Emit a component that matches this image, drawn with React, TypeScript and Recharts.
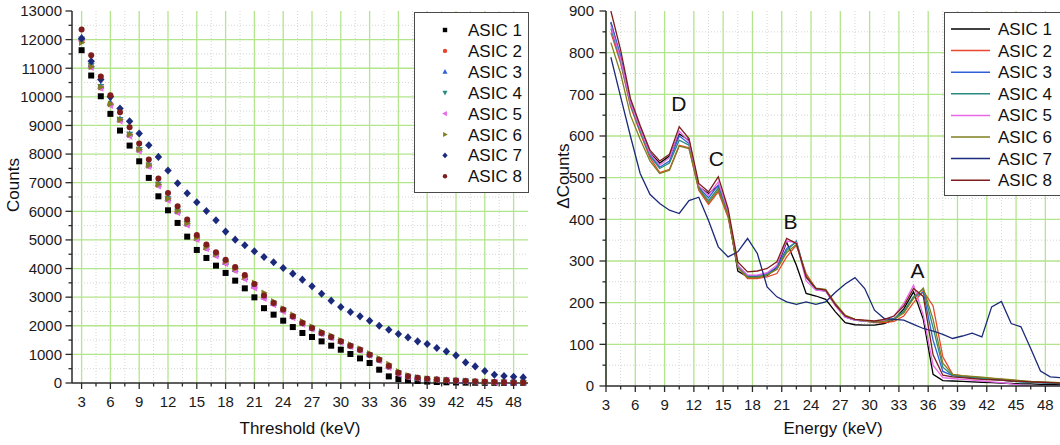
import {
  ScatterChart,
  Scatter,
  LineChart,
  Line,
  XAxis,
  YAxis,
  CartesianGrid,
  ReferenceDot,
  Label,
} from "recharts";

const FONT = "'Liberation Sans', Arial, Helvetica, sans-serif";
const AXIS = "#2a2a2a";
const GRID_MAJOR = "#b3e58c";
const GRID_MINOR = "#d6d6d6";

// ---- left panel: counts vs threshold ----
const thresholds = [3, 4, 5, 6, 7, 8, 9, 10, 11, 12, 13, 14, 15, 16, 17, 18, 19, 20, 21, 22, 23, 24, 25, 26, 27, 28, 29, 30, 31, 32, 33, 34, 35, 36, 37, 38, 39, 40, 41, 42, 43, 44, 45, 46, 47, 48, 49];
const countsAsic1 = [11630, 10745, 10020, 9405, 8822, 8297, 7748, 7168, 6524, 6035, 5594, 5115, 4650, 4370, 4101, 3846, 3577, 3308, 2993, 2615, 2388, 2178, 1955, 1748, 1608, 1455, 1304, 1164, 1014, 860, 699, 465, 231, 140, 100, 70, 50, 35, 25, 18, 12, 9, 6, 5, 4, 3, 2];
const countsAsic2 = [11980, 11060, 10330, 9740, 9190, 8670, 8150, 7600, 6930, 6430, 5990, 5560, 5050, 4720, 4480, 4210, 3955, 3675, 3375, 3000, 2775, 2545, 2315, 2085, 1910, 1735, 1595, 1440, 1290, 1150, 980, 800, 560, 330, 220, 170, 138, 118, 98, 82, 68, 54, 40, 30, 24, 19, 14];
const countsAsic3 = [12080, 11120, 10380, 9790, 9230, 8700, 8170, 7620, 6950, 6450, 6010, 5580, 5070, 4740, 4495, 4225, 3970, 3690, 3390, 3015, 2790, 2560, 2330, 2095, 1920, 1745, 1605, 1450, 1300, 1160, 990, 815, 590, 360, 235, 178, 142, 121, 101, 86, 71, 56, 41, 31, 25, 20, 15];
const countsAsic4 = [12020, 11090, 10360, 9950, 9210, 8690, 8160, 7610, 6940, 6440, 6000, 5570, 5060, 4730, 4485, 4215, 3960, 3680, 3380, 3005, 2785, 2550, 2320, 2090, 1915, 1740, 1600, 1445, 1295, 1155, 985, 810, 585, 355, 232, 176, 140, 120, 100, 85, 70, 55, 40, 30, 25, 20, 15];
const countsAsic5 = [11950, 11020, 10300, 9700, 9150, 8620, 8100, 7560, 6880, 6380, 5950, 5510, 5010, 4690, 4440, 4170, 3920, 3630, 3320, 2950, 2730, 2500, 2280, 2050, 1880, 1710, 1570, 1415, 1270, 1130, 960, 780, 540, 310, 210, 165, 135, 115, 95, 80, 65, 50, 38, 28, 22, 18, 13];
const countsAsic6 = [11900, 11050, 10340, 9750, 9200, 8680, 8160, 7610, 6940, 6440, 6010, 5580, 5080, 4760, 4510, 4250, 4000, 3720, 3500, 3150, 2850, 2600, 2380, 2150, 1970, 1790, 1650, 1490, 1340, 1200, 1030, 860, 660, 400, 260, 190, 150, 125, 105, 88, 72, 57, 42, 32, 26, 21, 16];
const countsAsic7 = [12040, 11245, 10605, 10000, 9590, 9147, 8717, 8308, 7902, 7423, 6979, 6629, 6315, 6014, 5689, 5290, 5010, 4811, 4601, 4406, 4217, 4021, 3822, 3612, 3378, 3122, 2878, 2657, 2483, 2329, 2178, 2003, 1864, 1713, 1594, 1455, 1364, 1224, 1105, 965, 720, 580, 420, 290, 245, 220, 196];
const countsAsic8 = [12354, 11454, 10710, 10056, 9462, 8937, 8367, 7808, 7143, 6643, 6175, 5710, 5175, 4836, 4566, 4311, 4056, 3776, 3462, 3060, 2800, 2565, 2330, 2100, 1925, 1750, 1610, 1455, 1305, 1165, 990, 815, 590, 360, 240, 180, 145, 120, 100, 85, 70, 55, 42, 32, 25, 20, 15];

// ---- right panel: delta counts vs energy ----
const energies = [3.5, 4.5, 5.5, 6.5, 7.5, 8.5, 9.5, 10.5, 11.5, 12.5, 13.5, 14.5, 15.5, 16.5, 17.5, 18.5, 19.5, 20.5, 21.5, 22.5, 23.5, 24.5, 25.5, 26.5, 27.5, 28.5, 29.5, 30.5, 31.5, 32.5, 33.5, 34.5, 35.5, 36.5, 37.5, 38.5, 39.5, 40.5, 41.5, 42.5, 43.5, 44.5, 45.5, 46.5, 47.5, 48.5, 49.5];
const deltaAsic1 = [872, 785, 680, 620, 560, 535, 552, 605, 590, 478, 462, 480, 415, 276, 262, 262, 265, 285, 345, 290, 222, 216, 208, 178, 152, 147, 146, 146, 150, 160, 185, 226, 160, 28, 13, 12, 11, 10, 9, 8, 7, 6, 5, 5, 4, 4, 3];
const deltaAsic2 = [848, 775, 672, 608, 548, 512, 520, 578, 572, 470, 436, 466, 405, 285, 258, 258, 262, 270, 310, 338, 270, 234, 230, 196, 168, 160, 156, 152, 152, 155, 168, 200, 228, 192, 70, 28, 24, 22, 20, 18, 16, 14, 12, 10, 9, 8, 7];
const deltaAsic3 = [874, 792, 682, 615, 555, 525, 540, 600, 582, 476, 452, 482, 415, 288, 265, 265, 270, 285, 330, 345, 262, 232, 228, 194, 166, 158, 156, 154, 156, 160, 178, 212, 225, 110, 35, 25, 22, 20, 18, 16, 14, 12, 10, 9, 8, 7, 6];
const deltaAsic4 = [858, 780, 676, 612, 552, 522, 535, 590, 578, 474, 445, 475, 412, 286, 262, 262, 268, 280, 325, 348, 262, 232, 228, 194, 166, 158, 156, 154, 156, 162, 180, 215, 232, 140, 45, 25, 22, 20, 18, 16, 14, 12, 10, 9, 8, 7, 6];
const deltaAsic5 = [865, 785, 680, 618, 558, 530, 548, 612, 586, 480, 458, 490, 420, 290, 266, 266, 272, 290, 348, 344, 252, 230, 228, 192, 165, 158, 156, 155, 158, 168, 198, 242, 170, 50, 20, 18, 16, 14, 12, 10, 8, 5, 2, 0, 0, 0, 0];
const deltaAsic6 = [824, 750, 650, 592, 540, 510, 518, 576, 570, 472, 440, 470, 410, 284, 260, 260, 266, 280, 320, 340, 265, 235, 232, 198, 170, 160, 157, 154, 155, 160, 175, 210, 235, 160, 55, 28, 25, 23, 21, 19, 17, 15, 13, 11, 10, 9, 8];
const deltaAsic7 = [789, 694, 600, 510, 460, 438, 422, 414, 445, 453, 397, 334, 310, 322, 354, 318, 238, 214, 202, 196, 202, 196, 202, 225, 245, 260, 234, 182, 162, 160, 158, 148, 138, 132, 124, 114, 120, 127, 118, 190, 203, 150, 142, 90, 36, 22, 20];
const deltaAsic8 = [900, 806, 690, 625, 566, 540, 556, 622, 594, 486, 466, 502, 426, 298, 274, 276, 282, 298, 354, 342, 262, 234, 230, 195, 168, 160, 158, 156, 160, 168, 192, 234, 215, 75, 26, 22, 20, 18, 16, 15, 14, 12, 11, 10, 9, 8, 7];

const asicNames = ["ASIC 1", "ASIC 2", "ASIC 3", "ASIC 4", "ASIC 5", "ASIC 6", "ASIC 7", "ASIC 8"];
const asicColors = ["#000000", "#e8472e", "#2f5fd8", "#2a8a80", "#e868e8", "#7f7f1f", "#1b2a7a", "#7f1d1d"];
const markerKinds = ["square", "circle", "up", "down", "left", "right", "diamond", "circle"];

// tick values
const thrMajor = [3, 6, 9, 12, 15, 18, 21, 24, 27, 30, 33, 36, 39, 42, 45, 48];
const thrMinor = [4.5, 7.5, 10.5, 13.5, 16.5, 19.5, 22.5, 25.5, 28.5, 31.5, 34.5, 37.5, 40.5, 43.5, 46.5];
const countMajor = [0, 1000, 2000, 3000, 4000, 5000, 6000, 7000, 8000, 9000, 10000, 11000, 12000, 13000];
const countMinor = [500, 1500, 2500, 3500, 4500, 5500, 6500, 7500, 8500, 9500, 10500, 11500, 12500];
const enMajor = [3, 6, 9, 12, 15, 18, 21, 24, 27, 30, 33, 36, 39, 42, 45, 48];
const enMinor = [4.5, 7.5, 10.5, 13.5, 16.5, 19.5, 22.5, 25.5, 28.5, 31.5, 34.5, 37.5, 40.5, 43.5, 46.5];
const deltaMajor = [0, 100, 200, 300, 400, 500, 600, 700, 800, 900];
const deltaMinor = [50, 150, 250, 350, 450, 550, 650, 750, 850];

// peak annotations (data coords)
const peakLabels = [
  { text: "D", e: 10.45, v: 677 },
  { text: "C", e: 14.3, v: 546 },
  { text: "B", e: 21.9, v: 394 },
  { text: "A", e: 34.9, v: 276 },
];

const countsSeries = [countsAsic1, countsAsic2, countsAsic3, countsAsic4, countsAsic5, countsAsic6, countsAsic7, countsAsic8];
const deltaSeries = [deltaAsic1, deltaAsic2, deltaAsic3, deltaAsic4, deltaAsic5, deltaAsic6, deltaAsic7, deltaAsic8];

const deltaRows = energies.map((e, i) => {
  const row: Record<string, number> = { e };
  deltaSeries.forEach((s, k) => {
    row[`a${k + 1}`] = s[i];
  });
  return row;
});

function Marker({ cx, cy, kind, color, s = 3.2 }: { cx: number; cy: number; kind: string; color: string; s?: number }) {
  const p = (pts: number[][]) => pts.map(([a, b]) => `${cx + a * s},${cy + b * s}`).join(" ");
  switch (kind) {
    case "square":
      return <rect x={cx - s} y={cy - s} width={2 * s} height={2 * s} fill={color} />;
    case "circle":
      return <circle cx={cx} cy={cy} r={s} fill={color} />;
    case "up":
      return <polygon points={p([[0, -1.25], [1.15, 0.85], [-1.15, 0.85]])} fill={color} />;
    case "down":
      return <polygon points={p([[0, 1.25], [1.15, -0.85], [-1.15, -0.85]])} fill={color} />;
    case "left":
      return <polygon points={p([[-1.25, 0], [0.85, -1.15], [0.85, 1.15]])} fill={color} />;
    case "right":
      return <polygon points={p([[1.25, 0], [-0.85, -1.15], [-0.85, 1.15]])} fill={color} />;
    default:
      return <polygon points={p([[0, -1.3], [1.2, 0], [0, 1.3], [-1.2, 0]])} fill={color} />;
  }
}

function BottomTick(props: any) {
  const { x, y, payload, majors } = props;
  const major = majors.includes(payload.value);
  return (
    <g>
      <line x1={x} x2={x} y1={y} y2={y + (major ? 6 : 3.5)} stroke={AXIS} strokeWidth={1.3} />
      {major && (
        <text x={x} y={y + 23.5} textAnchor="middle" fontSize={15} fontFamily={FONT} fill="#1a1a1a">
          {payload.value}
        </text>
      )}
    </g>
  );
}

function LeftTick(props: any) {
  const { x, y, payload, majors, gap } = props;
  const major = majors.includes(payload.value);
  return (
    <g>
      <line x1={x} x2={x - (major ? 6.5 : 3.5)} y1={y} y2={y} stroke={AXIS} strokeWidth={1.3} />
      {major && (
        <text x={x - gap} y={y + 5.3} textAnchor="end" fontSize={15} fontFamily={FONT} fill="#1a1a1a">
          {payload.value}
        </text>
      )}
    </g>
  );
}

function LegendBox({ left, top, width, height, first, step, lines }: any) {
  return (
    <svg style={{ position: "absolute", left, top }} width={width} height={height}>
      <rect x={0.5} y={0.5} width={width - 1} height={height - 1} fill="#fff" stroke="#4a4a4a" strokeWidth={1} />
      {asicNames.map((n, i) => {
        const cy = first + i * step;
        return (
          <g key={n}>
            {lines ? (
              <line x1={7} x2={46} y1={cy} y2={cy} stroke={asicColors[i]} strokeWidth={1.5} />
            ) : (
              <Marker cx={31} cy={cy} kind={markerKinds[i]} color={asicColors[i]} s={2.2} />
            )}
            <text x={54} y={cy + 6} fontSize={17} fontFamily={FONT} fill="#111">
              {n}
            </text>
          </g>
        );
      })}
    </svg>
  );
}

function CountsPanel() {
  return (
    <ScatterChart width={530} height={445} margin={{ top: 11, right: 2, bottom: 0, left: 0 }}>
      <CartesianGrid horizontalValues={countMinor} verticalValues={thrMinor} stroke={GRID_MINOR} strokeDasharray="1 2" />
      <CartesianGrid horizontalValues={countMajor.slice(1, -1)} verticalValues={thrMajor} stroke={GRID_MAJOR} strokeWidth={1.3} />
      <XAxis
        type="number"
        dataKey="x"
        domain={[2, 49.5]}
        ticks={[...thrMajor, ...thrMinor].sort((a, b) => a - b)}
        interval={0}
        height={62}
        tickSize={0}
        tickMargin={0}
        tickLine={false}
        axisLine={{ stroke: AXIS, strokeWidth: 1.5 }}
        tick={(p: any) => <BottomTick {...p} majors={thrMajor} />}
      >
        <Label
          content={(lp: any) => (
            <text x={lp.viewBox.x + lp.viewBox.width / 2} y={lp.viewBox.y + 51} textAnchor="middle" fontSize={17} fontFamily={FONT} fill="#111">
              Threshold (keV)
            </text>
          )}
        />
      </XAxis>
      <YAxis
        type="number"
        dataKey="y"
        domain={[0, 13000]}
        ticks={[...countMajor, ...countMinor].sort((a, b) => a - b)}
        interval={0}
        width={72}
        tickSize={0}
        tickMargin={0}
        tickLine={false}
        axisLine={{ stroke: AXIS, strokeWidth: 1.5 }}
        tick={(p: any) => <LeftTick {...p} majors={countMajor} gap={10} />}
      >
        <Label
          content={(lp: any) => {
            const cx = lp.viewBox.x + 13.5;
            const cy = lp.viewBox.y + 174;
            return (
              <text x={cx} y={cy} transform={`rotate(-90 ${cx} ${cy})`} textAnchor="middle" dominantBaseline="central" fontSize={17} fontFamily={FONT} fill="#111">
                Counts
              </text>
            );
          }}
        />
      </YAxis>
      {countsSeries.map((vals, k) => (
        <Scatter
          key={asicNames[k]}
          name={asicNames[k]}
          data={thresholds.map((t, i) => ({ x: t, y: vals[i] }))}
          isAnimationActive={false}
          shape={(p: any) => <Marker cx={p.cx} cy={p.cy} kind={markerKinds[k]} color={asicColors[k]} s={k === 6 ? 3.1 : 3} />}
        />
      ))}
    </ScatterChart>
  );
}

function DeltaPanel() {
  return (
    <LineChart width={530} height={445} data={deltaRows} margin={{ top: 11, right: 0, bottom: 0, left: 0 }}>
      <CartesianGrid horizontalValues={deltaMinor} verticalValues={enMinor} stroke={GRID_MINOR} strokeDasharray="1 2" />
      <CartesianGrid horizontalValues={deltaMajor.slice(1, -1)} verticalValues={enMajor} stroke={GRID_MAJOR} strokeWidth={1.3} />
      <XAxis
        type="number"
        dataKey="e"
        domain={[3, 49.5]}
        ticks={[...enMajor, ...enMinor].sort((a, b) => a - b)}
        interval={0}
        height={59}
        tickSize={0}
        tickMargin={0}
        tickLine={false}
        axisLine={{ stroke: AXIS, strokeWidth: 1.5 }}
        tick={(p: any) => <BottomTick {...p} majors={enMajor} />}
      >
        <Label
          content={(lp: any) => (
            <text x={lp.viewBox.x + lp.viewBox.width / 2} y={lp.viewBox.y + 48} textAnchor="middle" fontSize={17} fontFamily={FONT} fill="#111">
              Energy (keV)
            </text>
          )}
        />
      </XAxis>
      <YAxis
        type="number"
        domain={[0, 900]}
        allowDataOverflow
        ticks={[...deltaMajor, ...deltaMinor].sort((a, b) => a - b)}
        interval={0}
        width={76}
        tickSize={0}
        tickMargin={0}
        tickLine={false}
        axisLine={{ stroke: AXIS, strokeWidth: 1.5 }}
        tick={(p: any) => <LeftTick {...p} majors={deltaMajor} gap={12} />}
      >
        <Label
          content={(lp: any) => {
            const cx = lp.viewBox.x + 33;
            const cy = lp.viewBox.y + 165;
            return (
              <text x={cx} y={cy} transform={`rotate(-90 ${cx} ${cy})`} textAnchor="middle" dominantBaseline="central" fontSize={17} fontFamily={FONT} fill="#111">
                ΔCounts
              </text>
            );
          }}
        />
      </YAxis>
      {asicNames.map((n, k) => (
        <Line
          key={n}
          type="linear"
          dataKey={`a${k + 1}`}
          name={n}
          stroke={asicColors[k]}
          strokeWidth={1.3}
          dot={false}
          isAnimationActive={false}
        />
      ))}
      {peakLabels.map((pk) => (
        <ReferenceDot
          key={pk.text}
          x={pk.e}
          y={pk.v}
          r={1}
          fill="none"
          stroke="none"
          label={{ value: pk.text, position: "center", fontSize: 21, fill: "#111", fontFamily: FONT }}
        />
      ))}
    </LineChart>
  );
}

export default function App() {
  return (
    <div
      style={{
        position: "absolute",
        left: 0,
        top: 0,
        width: 1060,
        height: 445,
        overflow: "hidden",
        background: "#fff",
        fontFamily: FONT,
      }}
    >
      <div style={{ position: "absolute", left: 0, top: 0 }}>
        <CountsPanel />
      </div>
      <div style={{ position: "absolute", left: 530, top: 0 }}>
        <DeltaPanel />
      </div>
      <LegendBox left={414} top={12} width={115} height={181} first={18} step={20.9} lines={false} />
      <LegendBox left={944} top={12} width={125} height={184} first={17} step={21.6} lines />
    </div>
  );
}
